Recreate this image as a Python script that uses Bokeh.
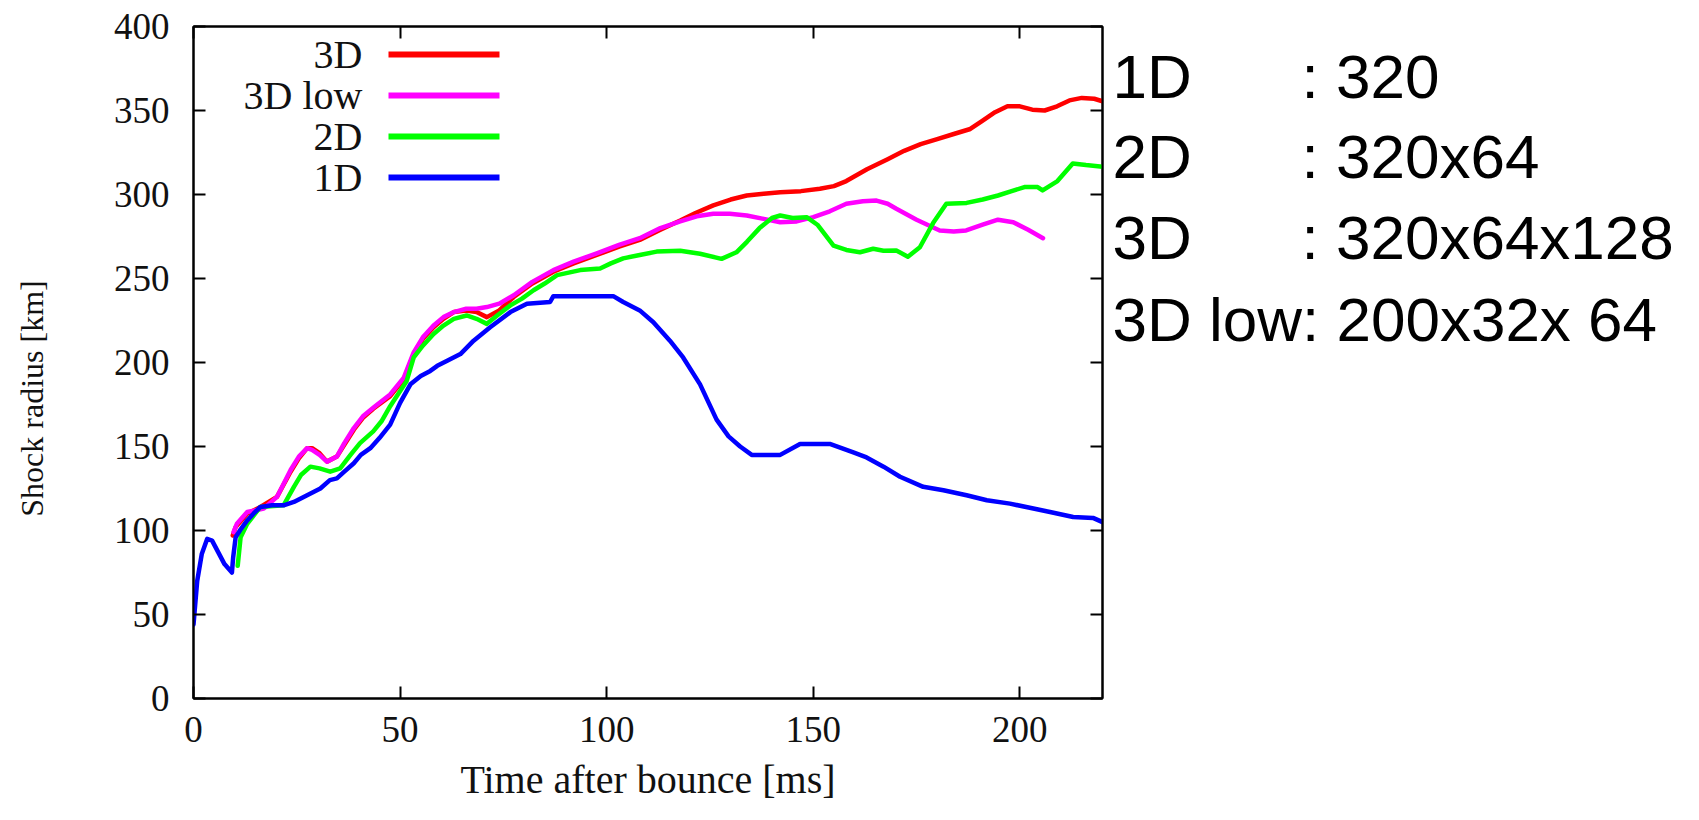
import math
from bokeh.plotting import figure
from bokeh.layouts import row
from bokeh.models import Label, BoxAnnotation, LinearAxis, Range1d, FixedTicker
from bokeh.embed import file_html
from bokeh.resources import INLINE

# ---------------- data ----------------
t_1d = [0, 0.9, 2, 3.3, 4.5, 6, 7.5, 9.3, 9.6, 10.2, 11.5, 13, 14.5, 16.2, 19, 21.8, 24.3,
        27.5, 30.7, 33, 34.7, 36.5, 38.8, 40.5, 42.8, 45, 47.6, 50, 52.5, 55, 57.3, 59, 61.4,
        64.6, 67.8, 71.8, 76.7, 80.7, 86.3, 87.1, 95, 101.6, 104, 108, 111.3, 115.3, 118.5,
        122.6, 126.6, 129.5, 132.3, 135.1, 142, 146.8, 154, 159.7, 162.9, 167, 171, 176.6,
        181.5, 187.1, 192, 197.6, 202.4, 207.3, 212.9, 217.7, 220]
r_1d = [44, 70, 86, 95, 94, 87, 80, 75, 84, 96, 101, 106, 110, 114, 115, 115, 117,
        121, 125, 130, 131, 135, 140, 145, 149, 155, 163, 176, 187, 192, 195, 198, 201,
        205, 213, 221, 230, 235, 236, 239.5, 239.5, 239.5, 236, 231, 224, 213, 203,
        187, 166, 156, 150, 145, 145, 151.5, 151.5, 146.5, 143.5, 138, 132, 126,
        124, 121, 118, 116, 113.5, 111, 108, 107.5, 105]

t_3d = [9.5, 10.2, 13, 16.2, 20.2, 23.5, 25.5, 27.5, 28.7, 30.5, 32.3, 34.7, 36.5, 38.8, 41,
        43.5, 47.6, 50.9, 53.3, 55.5, 58.1, 60.5, 63, 66, 68.5, 71, 74, 77.5, 82, 87.1, 92,
        97.6, 103, 108, 113, 117.8, 121.5, 125.8, 130, 133.9, 138, 142, 147, 151.6, 155,
        158, 163, 168, 172, 176, 180, 184, 188, 191, 194, 197, 200, 203, 206, 209, 212,
        215, 218, 220]
r_3d = [97, 102, 110, 114, 120, 135, 143, 149, 149, 146, 141, 144, 151, 160, 167,
        172.5, 180, 190, 205, 214, 221, 226, 230, 231, 230, 227, 231, 239, 247, 254, 259,
        264, 269, 273, 279, 284.5, 289, 293.5, 297, 299.4, 300.5, 301.4, 302, 303.4, 305,
        308, 315, 321, 326, 330, 333, 336, 339, 344, 349, 352.5, 352.5, 350.5, 350, 352.5, 356,
        357.5, 357, 355.5]

t_3dlow = [9.7, 10.5, 13, 17, 20.2, 23.5, 25.5, 27.5, 28.7, 30.5, 32.3, 34.7, 36.5, 38.8, 41,
           43.5, 47.6, 50.9, 53.3, 55.5, 58.1, 60.5, 63, 66, 68.5, 71, 74, 77.5, 82, 87.1, 92,
           97.6, 103, 108, 113, 117.8, 121.8, 125.8, 129.8, 133.9, 138, 142, 146, 150, 154,
           158, 162, 165.3, 168, 170.1, 175, 180.6, 184, 187, 191, 194.7, 198.4, 202, 205.6]
r_3dlow = [99, 104, 111, 113, 120, 136, 144, 149, 148, 145, 141, 144, 152, 161, 168,
           173, 181, 191, 206, 215, 222, 227, 230, 232, 232, 233, 235, 240, 248, 255, 260,
           265, 270, 274, 280, 284, 287, 288.5, 288.5, 287.5, 285.5, 283.5, 284, 286.5, 290,
           294.5, 296, 296.4, 294.5, 291.5, 285, 278.6, 278, 278.6, 282, 285, 283.5, 279, 274]

t_2d = [10.7, 11.4, 13, 16.2, 21.8, 24.3, 26, 28.3, 30.5, 33.1, 35.5, 38, 40.3, 43.5, 45.5,
        47.6, 51.6, 53.3, 55.5, 58.1, 60.5, 63, 66.1, 68.5, 71, 73.5, 76.7, 79.5, 82.3, 85,
        88, 93.6, 98.4, 101, 104, 108, 112.1, 117.8, 122.6, 127.8, 131.4, 134, 137, 140,
        142, 145, 148.4, 151, 154.9, 158, 161.3, 164.5, 167, 170.1, 172.9, 175.8, 179,
        182.2, 187.1, 191, 194.7, 198, 201.1, 204.3, 205.5, 209.1, 212.8, 216, 220]
r_2d = [79, 96, 104, 114, 115, 126, 133, 138, 137, 135, 137, 145, 152, 159, 165,
        174, 189, 203, 210, 217, 222, 226, 228, 226, 223, 228, 234, 238, 243, 247,
        252, 255, 256, 259, 262, 264, 266, 266.5, 264.7, 261.7, 265.6, 272, 280, 286,
        287.5, 286, 286.5, 282, 269.6, 267, 265.6, 267.7, 266.5, 266.7, 263, 268.6, 283,
        294.5, 295, 297, 299.4, 302, 304.4, 304.4, 302.4, 308, 318.5, 317.5, 316.5]

series_names = ["3D", "3D low", "2D", "1D"]
series_colors = ["#ff0000", "#ff00ff", "#00ff00", "#0000ff"]
series_t = [t_3d, t_3dlow, t_2d, t_1d]
series_r = [r_3d, r_3dlow, r_2d, r_1d]

x_ticks = [0, 50, 100, 150, 200]
y_ticks = [0, 50, 100, 150, 200, 250, 300, 350, 400]

x_label = "Time after bounce [ms]"
y_label = "Shock radius [km]"

res_names = ["1D", "2D", "3D"]
res_values = [": 320", ": 320x64", ": 320x64x128"]
res_low = "3D low: 200x32x 64"

SERIF = "Liberation Serif"
SANS = "Liberation Sans"
H = 804
TOP = 26
BOTTOM = 106
LEFT_W = 70
MAIN_W = 1034

# ---------------- left strip: y axis title ----------------
pl = figure(width=LEFT_W, height=H, output_backend="svg", toolbar_location=None,
            min_border_left=0, min_border_right=0, min_border_top=TOP,
            min_border_bottom=BOTTOM, x_range=Range1d(0, 1), y_range=Range1d(0, 1))
pl.axis.visible = False
pl.grid.visible = False
pl.outline_line_color = None
pl.add_layout(Label(x=31, y=300, x_units="screen", y_units="screen", text=y_label,
                    angle=math.pi / 2, text_font=SERIF, text_font_size="32px",
                    text_color="#111111", text_align="center", text_baseline="middle"))

# ---------------- main plot ----------------
p = figure(width=MAIN_W, height=H, x_range=Range1d(0, 220), y_range=Range1d(0, 400),
           output_backend="svg", toolbar_location=None,
           min_border_left=193 - LEFT_W, min_border_right=2, min_border_top=TOP,
           min_border_bottom=BOTTOM)
p.grid.visible = False
p.outline_line_color = "black"
p.outline_line_width = 2
p.background_fill_color = "white"
p.border_fill_color = "white"


def style_axis(ax, ticks, show_labels):
    ax.ticker = FixedTicker(ticks=ticks)
    ax.axis_line_color = "black"
    ax.axis_line_width = 2
    ax.major_tick_line_color = "black"
    ax.major_tick_line_width = 2
    ax.major_tick_in = 12
    ax.major_tick_out = 0
    ax.minor_tick_line_color = None
    if show_labels:
        ax.major_label_text_font = SERIF
        ax.major_label_text_font_size = "37px"
        ax.major_label_text_color = "#111111"
    else:
        ax.major_label_overrides = {t: "" for t in ticks}
        ax.major_label_text_color = None
        ax.major_label_standoff = 0


style_axis(p.xaxis[0], x_ticks, True)
style_axis(p.yaxis[0], y_ticks, True)
p.xaxis[0].major_label_standoff = 18
p.yaxis[0].major_label_standoff = 24
p.xaxis[0].axis_label = x_label
p.xaxis[0].axis_label_text_font = SERIF
p.xaxis[0].axis_label_text_font_size = "40px"
p.xaxis[0].axis_label_text_font_style = "normal"
p.xaxis[0].axis_label_text_color = "#111111"
p.xaxis[0].axis_label_standoff = 12

top_ax = LinearAxis()
style_axis(top_ax, x_ticks, False)
p.add_layout(top_ax, "above")
right_ax = LinearAxis()
style_axis(right_ax, y_ticks, False)
p.add_layout(right_ax, "right")

for t, r, c, n in zip(series_t, series_r, series_colors, series_names):
    p.line(t, r, line_color=c, line_width=4.5, line_join="round", line_cap="round")

# legend (text on the left, line sample on the right)
leg_y0 = 644
leg_dy = 41
for i, (n, c) in enumerate(zip(series_names, series_colors)):
    yc = leg_y0 - i * leg_dy
    p.add_layout(Label(x=169, y=yc, x_units="screen", y_units="screen", text=n,
                       text_font=SERIF, text_font_size="40px", text_color="#111111",
                       text_align="right", text_baseline="middle"))
    p.add_layout(BoxAnnotation(left=195, right=306, bottom=yc - 3, top=yc + 3,
                               left_units="screen", right_units="screen",
                               bottom_units="screen", top_units="screen",
                               fill_color=c, fill_alpha=1.0, line_color=None))

# ---------------- right strip: resolution notes ----------------
RIGHT_W = 1683 - LEFT_W - MAIN_W
pr = figure(width=RIGHT_W, height=H, output_backend="svg", toolbar_location=None,
            min_border_left=0, min_border_right=0, min_border_top=TOP,
            min_border_bottom=BOTTOM, x_range=Range1d(0, 1), y_range=Range1d(0, 1))
pr.axis.visible = False
pr.grid.visible = False
pr.outline_line_color = None
mid_y = [622, 542, 461]
for n, v, my in zip(res_names, res_values, mid_y):
    pr.add_layout(Label(x=8, y=my, x_units="screen", y_units="screen", text=n,
                        text_font=SANS, text_font_size="62px", text_color="black",
                        text_align="left", text_baseline="middle"))
    pr.add_layout(Label(x=197, y=my, x_units="screen", y_units="screen", text=v,
                        text_font=SANS, text_font_size="62px", text_color="black",
                        text_align="left", text_baseline="middle"))
pr.add_layout(Label(x=8, y=379, x_units="screen", y_units="screen", text=res_low,
                    text_font=SANS, text_font_size="62px", text_color="black",
                    text_align="left", text_baseline="middle"))

layout = row(pl, p, pr, spacing=0)
open("out.html", "w").write(file_html(layout, INLINE))
